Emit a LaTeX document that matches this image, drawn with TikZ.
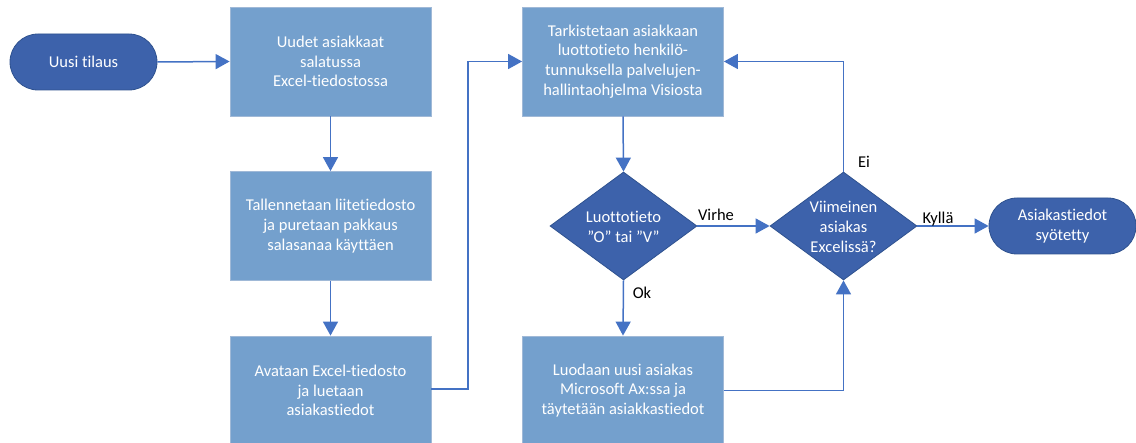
\documentclass[tikz,border=0pt]{standalone}
\usepackage{fontspec}
\setmainfont{Carlito}[Ligatures={NoCommon}]
\usetikzlibrary{shapes.geometric,arrows.meta}
\definecolor{boxfill}{RGB}{116,160,205}
\definecolor{boxline}{RGB}{160,185,215}
\definecolor{darkfill}{RGB}{61,98,171}
\definecolor{darkline}{RGB}{47,82,143}
\definecolor{arrowc}{RGB}{68,114,196}
\tikzset{
  procbox/.style={rectangle, fill=boxfill, draw=boxline, line width=0.8pt, minimum width=201pt, minimum height=109pt, inner sep=0pt, text=white, align=center, font=\fontsize{16.5}{19.7}\selectfont},
  termbox/.style={rectangle, rounded corners=28pt, fill=darkfill, draw=darkline, line width=0.8pt, minimum width=147pt, minimum height=56pt, inner sep=0pt, text=white, align=center, font=\fontsize{16.5}{19.7}\selectfont},
  decbox/.style={diamond, fill=darkfill, draw=darkline, line width=0.8pt, minimum width=147pt, minimum height=108pt, inner sep=0pt, shape aspect=1.36},
  dectext/.style={text=white, align=center, font=\fontsize{16.5}{19.7}\selectfont, inner sep=0pt},
  lbl/.style={text=black, font=\fontsize{16.5}{19}\selectfont, inner sep=0pt},
  conn/.style={draw=arrowc, line width=1.5pt, -{Triangle[length=14pt,width=15pt]}},
}
\begin{document}
\begin{tikzpicture}[x=1pt,y=-1pt]
\useasboundingbox (0,0) rectangle (1136,443);
\node[termbox] (start) at (83.5,62) {Uusi tilaus};
\node[procbox] (b1) at (330.5,61.5) {Uudet asiakkaat\\salatussa\\Excel-tiedostossa};
\node[procbox] (b2) at (330.5,226) {Tallennetaan liitetiedosto\\ja puretaan pakkaus\\salasanaa käyttäen};
\node[procbox] (b3) at (330.5,390.5) {Avataan Excel-tiedosto\\ja luetaan\\asiakastiedot};
\node[procbox] (b4) at (623,61.5) {Tarkistetaan asiakkaan\\luottotieto henkilö-\\tunnuksella palvelujen-\\hallintaohjelma Visiosta};
\node[procbox] (b5) at (623,390.5) {Luodaan uusi asiakas\\Microsoft Ax:ssa ja\\täytetään asiakkastiedot};
\node[decbox] (d1) at (623.5,226) {};
\node[dectext] (d1t) at (623.5,227) {Luottotieto\\”O” tai ”V”};
\node[decbox] (d2) at (843.5,226) {};
\node[dectext] (d2t) at (843.5,227) {Viimeinen\\asiakas\\Excelissä?};
\node[termbox] (end) at (1062.5,226) {Asiakastiedot\\syötetty};
\coordinate (turn) at (468,389);
\draw[conn] (start.east) -- (b1.west);
\draw[conn] (b1.south) -- (b2.north);
\draw[conn] (b2.south) -- (b3.north);
\draw[conn] (b3.east |- turn) -- (turn) |- (b4.west);
\draw[conn] (b4.south) -- (d1.north);
\draw[conn] (d1.east) -- (d2.west);
\draw[conn] (d1.south) -- (b5.north);
\draw[conn] (b5.east) -| (d2.south);
\draw[conn] (d2.north) |- (b4.east);
\draw[conn] (d2.east) -- (end.west);
\node[lbl] (virhe) at (716,215) {Virhe};
\node[lbl] (ok) at (642,293) {Ok};
\node[lbl] (ei) at (864,162) {Ei};
\node[lbl] (kylla) at (938,219) {Kyllä};
\end{tikzpicture}
\end{document}
